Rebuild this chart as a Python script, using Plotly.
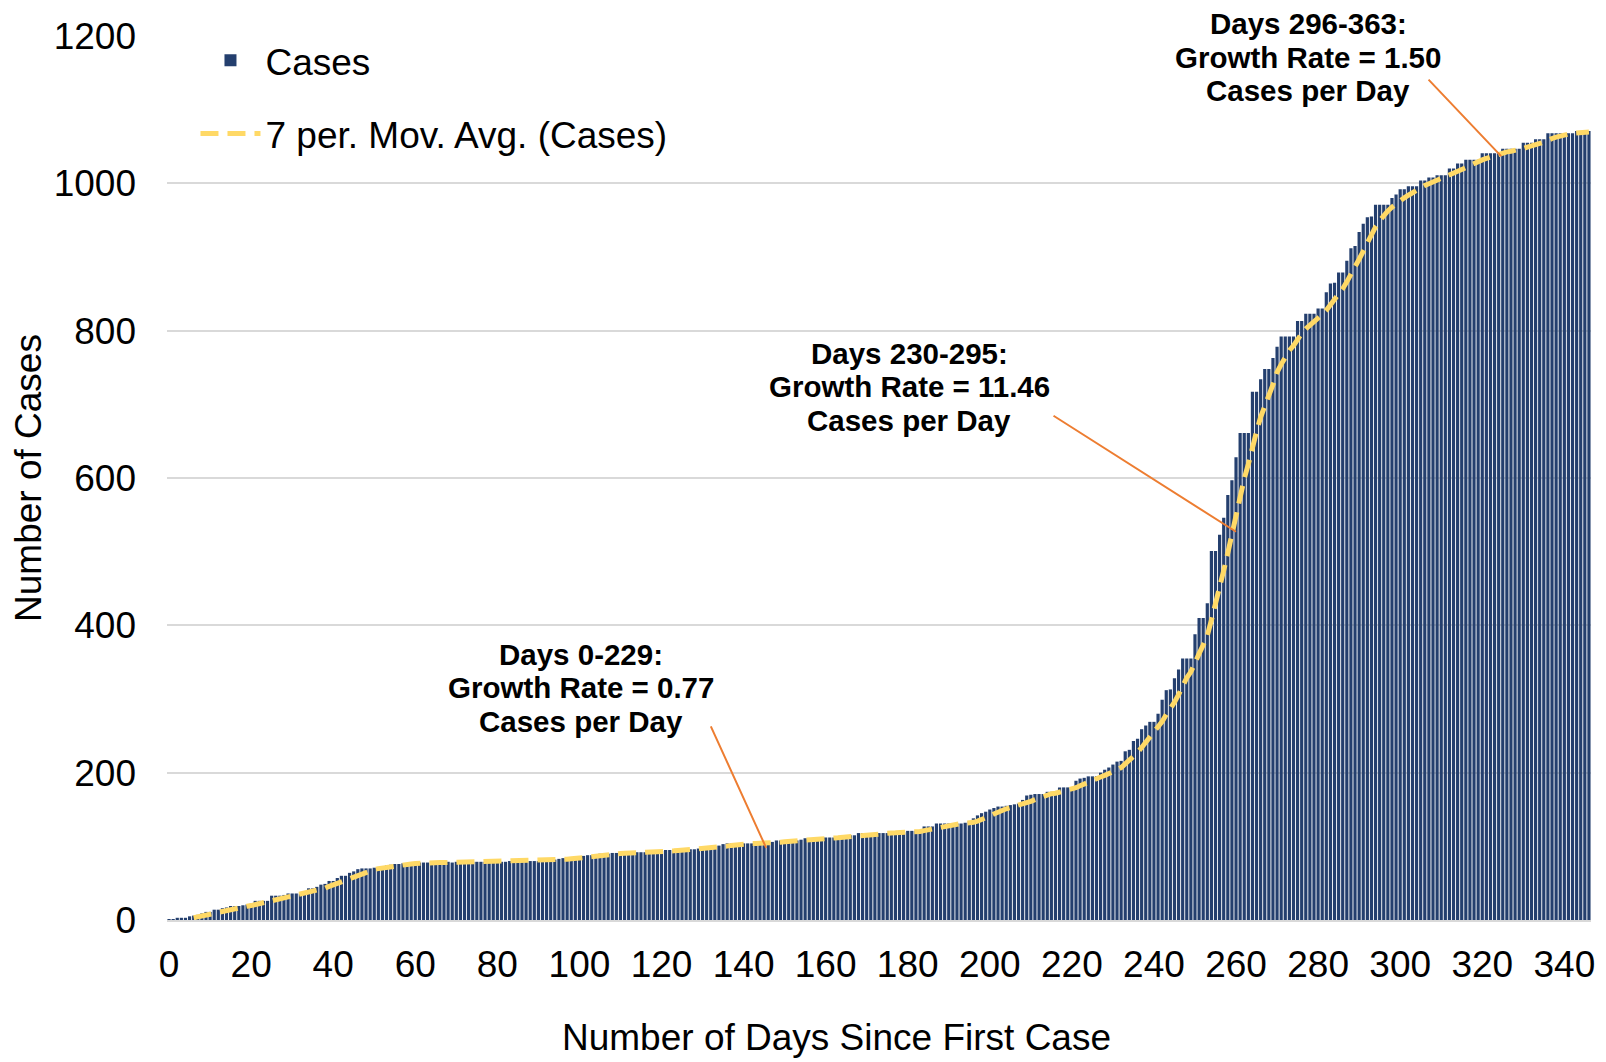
import plotly.graph_objects as go
import pandas as pd

days = list(range(347))
cases = [
    1, 1, 3, 3, 3, 5, 6, 7, 9, 11,
    11, 14, 14, 16, 17, 19, 19, 19, 20, 21,
    22, 26, 26, 26, 26, 33, 33, 33, 34, 36,
    36, 36, 36, 38, 43, 43, 45, 48, 49, 53,
    53, 57, 60, 60, 64, 66, 69, 70, 70, 70,
    71, 72, 73, 74, 75, 76, 76, 77, 77, 78,
    78, 78, 78, 78, 78, 78, 78, 78, 79, 78,
    79, 79, 79, 79, 79, 79, 79, 79, 79, 79,
    79, 79, 79, 80, 80, 80, 80, 80, 80, 80,
    80, 81, 81, 82, 82, 83, 84, 84, 85, 86,
    86, 87, 88, 88, 89, 90, 90, 90, 91, 91,
    91, 91, 91, 92, 92, 92, 92, 92, 93, 93,
    94, 95, 95, 95, 95, 96, 96, 96, 96, 97,
    97, 98, 99, 100, 101, 103, 104, 104, 104, 104,
    104, 104, 104, 104, 104, 104, 105, 106, 108, 108,
    108, 108, 108, 108, 109, 111, 111, 111, 111, 111,
    112, 112, 112, 112, 115, 115, 115, 115, 118, 118,
    118, 118, 118, 118, 118, 118, 119, 119, 119, 119,
    121, 121, 121, 121, 127, 127, 127, 131, 131, 131,
    131, 131, 131, 131, 132, 134, 138, 142, 145, 147,
    150, 152, 154, 154, 155, 156, 157, 158, 163, 169,
    170, 171, 171, 171, 174, 174, 174, 180, 180, 180,
    180, 189, 192, 193, 195, 195, 195, 200, 204, 207,
    211, 215, 216, 229, 231, 243, 246, 259, 264, 269,
    269, 280, 299, 312, 313, 328, 340, 355, 355, 355,
    388, 410, 410, 430, 501, 501, 523, 546, 577, 597,
    628, 661, 661, 661, 717, 717, 734, 748, 748, 763,
    778, 792, 792, 792, 792, 813, 813, 823, 823, 823,
    830, 830, 852, 864, 865, 879, 879, 895, 912, 915,
    934, 945, 954, 955, 971, 971, 971, 971, 980, 985,
    992, 992, 996, 996, 996, 1004, 1004, 1008, 1008, 1011,
    1011, 1011, 1020, 1020, 1027, 1027, 1032, 1032, 1032, 1032,
    1041, 1041, 1041, 1041, 1041, 1047, 1047, 1047, 1047, 1047,
    1055, 1055, 1055, 1060, 1060, 1060, 1068, 1068, 1068, 1068,
    1068, 1068, 1068, 1071, 1071, 1071, 1071,
]
x_ticks = list(range(0, 341, 20))
y_ticks = list(range(0, 1201, 200))
x_title = "Number of Days Since First Case"
y_title = "Number of Cases"

# annotation texts (one list per label, one string per line)
ann_lines = [
    ["Days 0-229:", "Growth Rate = 0.77", "Cases per Day"],
    ["Days 230-295:", "Growth Rate = 11.46", "Cases per Day"],
    ["Days 296-363:", "Growth Rate = 1.50", "Cases per Day"],
]
ann_text_pos = [(100.4, 315), (180.4, 724), (277.6, 1171)]
ann_head = [(145.5, 98), (260, 527), (324.6, 1037)]
ann_tail_offset = [(-56, -123), (-184, -117), (-74, -78)]

mov_avg = pd.Series(cases).rolling(7).mean()

FONT = "Liberation Sans, Arial, sans-serif"

fig = go.Figure()
fig.add_trace(go.Bar(
    x=days, y=cases, name="Cases",
    marker=dict(color="#243F6E", line=dict(width=0)),
    legendgroup="a",
))
fig.add_trace(go.Scatter(
    x=days, y=mov_avg, mode="lines", name="7 per. Mov. Avg. (Cases)",
    line=dict(color="#FFD966", width=5, dash="18px,9px"),
    legendgroup="b",
))

LINE_GAP = 33.5
for lines, (tx, ty) in zip(ann_lines, ann_text_pos):
    for i, ln in enumerate(lines):
        fig.add_annotation(x=tx, y=ty, text="<b>" + ln + "</b>", showarrow=False,
                           yshift=LINE_GAP * (1 - i),
                           font=dict(family=FONT, size=29.5, color="#000000"),
                           align="center")
for (hx, hy), (ax, ay) in zip(ann_head, ann_tail_offset):
    fig.add_annotation(x=hx, y=hy, text="", showarrow=True, arrowhead=0,
                       arrowwidth=2, arrowcolor="#ED7D31", ax=ax, ay=ay,
                       axref="pixel", ayref="pixel")

# x-axis title (placed left of centre, as in the original)
fig.add_annotation(xref="paper", yref="paper", x=0.4705, y=-0.1329,
                   xanchor="center", yanchor="middle", showarrow=False,
                   text=x_title, font=dict(family=FONT, size=37, color="#000000"))

fig.update_layout(
    width=1606, height=1062, autosize=False,
    margin=dict(l=159, r=23, t=28, b=150),
    paper_bgcolor="white", plot_bgcolor="white",
    bargap=0.22,
    font=dict(family=FONT, size=37, color="#000000"),
    legend=dict(x=0.020, y=1.007, xanchor="left", yanchor="top",
                bgcolor="rgba(0,0,0,0)", font=dict(size=37),
                traceorder="grouped", tracegroupgap=22, itemwidth=60),
    xaxis=dict(range=[-0.5, 346.5], tickmode="array", tickvals=x_ticks,
               ticktext=[str(v) for v in x_ticks], showgrid=False,
               showline=True, linecolor="#D9D9D9", linewidth=1.5,
               ticks="", ticklabelstandoff=11, zeroline=False,
               automargin=False),
    yaxis=dict(range=[0, 1200], tickmode="array", tickvals=y_ticks,
               showgrid=True, gridcolor="#D9D9D9", gridwidth=1.5,
               zeroline=False, ticks="", ticklabelstandoff=30,
               automargin=False,
               title=dict(text=y_title, font=dict(size=37), standoff=2)),
)

fig.write_html("out.html")
